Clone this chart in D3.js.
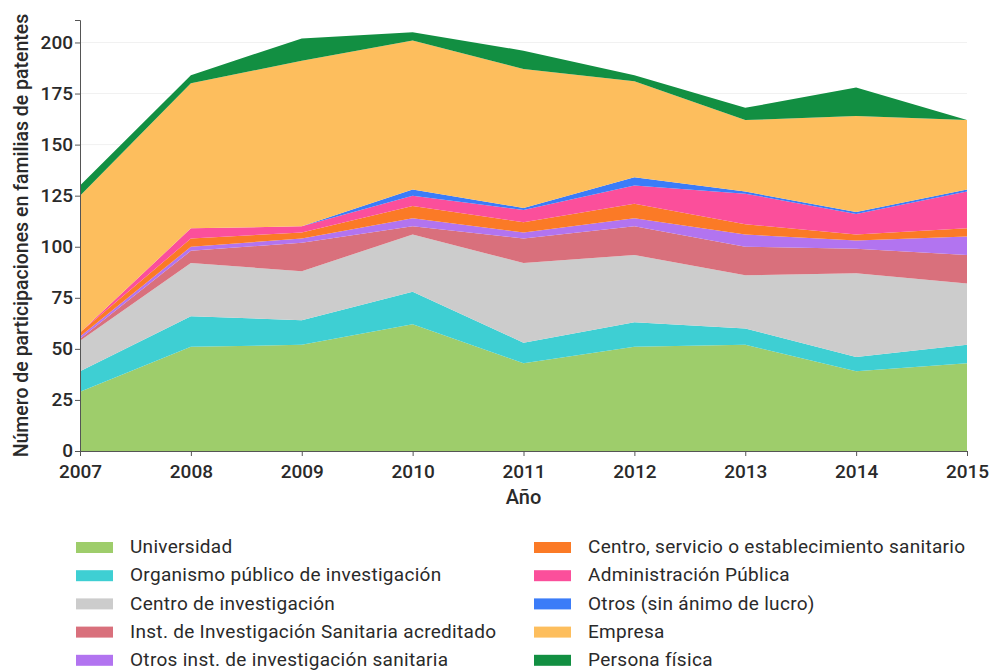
<!DOCTYPE html>
<html>
<head>
<meta charset="utf-8">
<script src="https://cdn.jsdelivr.net/npm/d3@7"></script>
<style>
  html, body { margin: 0; padding: 0; background: #fff; }
  svg { display: block; font-family: Roboto, "Noto Sans", sans-serif; }
</style>
</head>
<body>
<svg id="chart" width="991" height="671"></svg>
<script>
// Participaciones en familias de patentes por tipo de solicitante, 2007–2015
const years = [2007, 2008, 2009, 2010, 2011, 2012, 2013, 2014, 2015];

const universidad        = [29, 51, 52, 62, 43, 51, 52, 39, 43];
const organismoPublico   = [10, 15, 12, 16, 10, 12,  8,  7,  9];
const centroInvestig     = [15, 26, 24, 28, 39, 33, 26, 41, 30];
const instAcreditado     = [ 1,  6, 14,  4, 12, 14, 14, 12, 14];
const otrosInstSanitaria = [ 1,  2,  2,  4,  3,  4,  6,  4,  9];
const centroSanitario    = [ 2,  4,  3,  6,  5,  7,  5,  3,  4];
const administracion     = [ 0,  5,  3,  5,  6,  9, 15, 10, 18];
const otrosSinLucro      = [ 0,  0,  0,  3,  1,  4,  1,  1,  1];
const empresa            = [67, 71, 81, 73, 68, 47, 35, 47, 34];
const personaFisica      = [ 5,  4, 11,  4,  9,  3,  6, 14,  0];

const yTicks = [0, 25, 50, 75, 100, 125, 150, 175, 200];

const seriesNames = [
  "Universidad",
  "Organismo público de investigación",
  "Centro de investigación",
  "Inst. de Investigación Sanitaria acreditado",
  "Otros inst. de investigación sanitaria",
  "Centro, servicio o establecimiento sanitario",
  "Administración Pública",
  "Otros (sin ánimo de lucro)",
  "Empresa",
  "Persona física"
];
const seriesValues = [
  universidad, organismoPublico, centroInvestig, instAcreditado, otrosInstSanitaria,
  centroSanitario, administracion, otrosSinLucro, empresa, personaFisica
];
const seriesColors = [
  "#9ecd6b", "#3ecfd3", "#cccccc", "#d9707c", "#b274f0",
  "#fb7a26", "#fb4f9b", "#3b7cf8", "#fdbe5d", "#128f42"
];

const FONT = "Roboto, 'Noto Sans', sans-serif";

// Table for d3.stack: one row per year
const rows = years.map((yr, i) => {
  const r = { year: yr };
  seriesNames.forEach((name, k) => { r[name] = seriesValues[k][i]; });
  return r;
});

const svg = d3.select("#chart");
const margin = { left: 80, right: 24, top: 20, bottom: 220 };
const W = 991, H = 671;
const x0 = margin.left, x1 = W - margin.right;
const y0 = H - margin.bottom, y1 = margin.top;

const x = d3.scaleLinear().domain([2007, 2015]).range([x0, x1]);
const y = d3.scaleLinear().domain([0, 211]).range([y0, y1]);

// Light horizontal grid
svg.append("g")
  .selectAll("line")
  .data(yTicks.filter(t => t > 0))
  .join("line")
  .attr("x1", x0).attr("x2", x1)
  .attr("y1", d => y(d)).attr("y2", d => y(d))
  .attr("stroke", "#f1f1f1").attr("stroke-width", 1);

const stack = d3.stack().keys(seriesNames);
const layers = stack(rows);

const area = d3.area()
  .x(d => x(d.data.year))
  .y0(d => y(d[0]))
  .y1(d => y(d[1]));

svg.append("g")
  .selectAll("path")
  .data(layers)
  .join("path")
  .attr("d", area)
  .attr("fill", (d, i) => seriesColors[i]);

// Axes
const xAxis = d3.axisBottom(x)
  .tickValues(years)
  .tickFormat(d3.format("d"))
  .tickSizeOuter(0)
  .tickSize(5);
const gx = svg.append("g")
  .attr("transform", `translate(0,${y0})`)
  .call(xAxis)
  .attr("font-family", FONT)
  .attr("font-size", 19);
gx.select(".domain").attr("stroke", "#555");
gx.selectAll(".tick line").attr("stroke", "#555");
gx.selectAll(".tick text")
  .attr("fill", "#2a2a2a")
  .attr("font-weight", 500)
  .attr("y", 12)
  .attr("dy", "0.8em");

const yAxis = d3.axisLeft(y)
  .tickValues(yTicks)
  .tickSizeOuter(0)
  .tickSize(5);
const gy = svg.append("g")
  .attr("transform", `translate(${x0},0)`)
  .call(yAxis)
  .attr("font-family", FONT)
  .attr("font-size", 19);
gy.select(".domain").attr("stroke", "#555");
gy.selectAll(".tick line").attr("stroke", "#555");
gy.selectAll(".tick text")
  .attr("fill", "#2a2a2a")
  .attr("font-weight", 500)
  .attr("x", -7)
  .attr("dy", "0.3em");

// Axis titles
svg.append("text")
  .attr("x", (x0 + x1) / 2)
  .attr("y", 504)
  .attr("text-anchor", "middle")
  .attr("font-family", FONT)
  .attr("font-size", 20)
  .attr("font-weight", 500)
  .attr("fill", "#2a2a2a")
  .text("Año");

svg.append("text")
  .attr("transform", `translate(28,${(y0 + y1) / 2}) rotate(-90)`)
  .attr("text-anchor", "middle")
  .attr("font-family", FONT)
  .attr("font-size", 19.5)
  .attr("font-weight", 500)
  .attr("fill", "#2a2a2a")
  .text("Número de participaciones en familias de patentes");

// Legend: two columns of five
const legend = svg.append("g");
const items = legend.selectAll("g")
  .data(seriesNames)
  .join("g")
  .attr("transform", (d, i) => {
    const col = Math.floor(i / 5), row = i % 5;
    return `translate(${col === 0 ? 76 : 534},${547 + row * 28.2})`;
  });
items.append("rect")
  .attr("x", 0).attr("y", -5)
  .attr("width", 37).attr("height", 11)
  .attr("fill", (d, i) => seriesColors[i]);
items.append("text")
  .attr("x", 54).attr("y", 0)
  .attr("dy", "0.33em")
  .attr("font-family", FONT)
  .attr("font-size", 19)
  .attr("letter-spacing", "0.3px")
  .attr("fill", "#2a2a2a")
  .text(d => d);
</script>
</body>
</html>
